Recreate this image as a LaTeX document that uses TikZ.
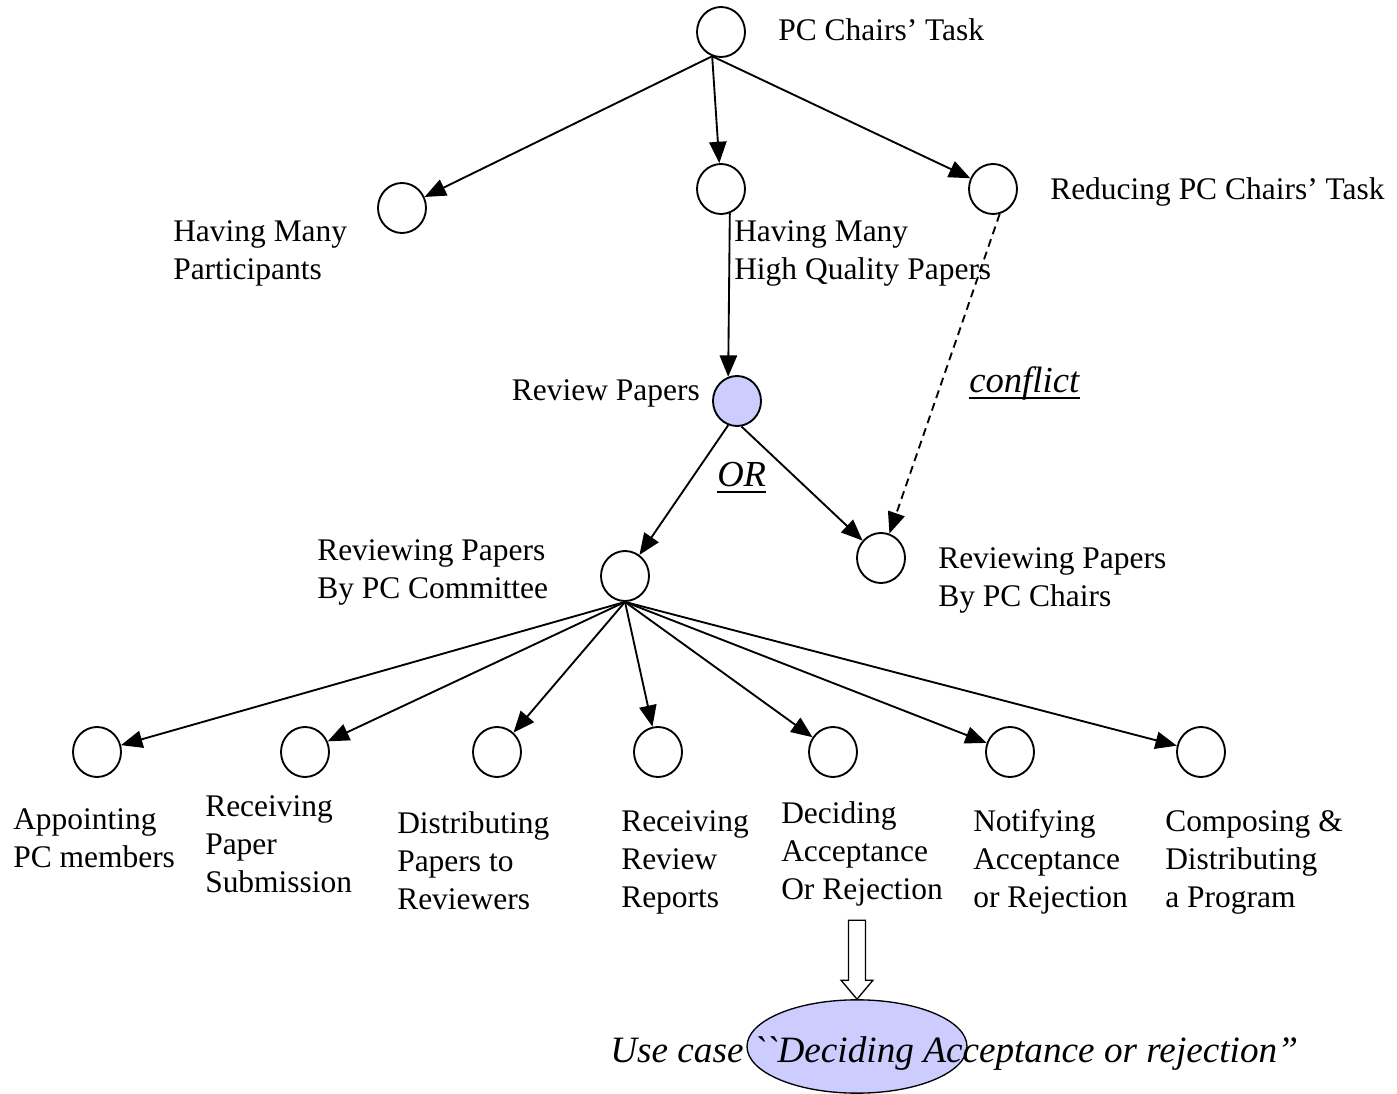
\documentclass[tikz,border=0pt]{standalone}
\usepackage{fontspec}
\setmainfont{Liberation Serif}
\usetikzlibrary{arrows.meta,shapes.geometric}
\definecolor{goalfill}{HTML}{CCCCFF}

\begin{document}
\begin{tikzpicture}[x=0.75pt,y=-0.75pt,
  goal/.style={draw, ellipse, line width=1.4pt, minimum width=36pt,
    minimum height=37.5pt, inner sep=0pt},
  lbl/.style={inner sep=0pt, align=left, anchor=base west,
    font=\fontsize{23.6}{28.5}\selectfont},
  tag/.style={lbl, font=\fontsize{27.5}{33}\selectfont\itshape},
  link/.style={line width=1.4pt, -{Triangle[length=16pt,width=13pt]}},
  blockarrow/.style={line width=1pt, fill=white, line join=miter}]
\useasboundingbox (0,0) rectangle (1397,1094);

% goals
\node[goal] (top) at (721,32) {};
\node[goal] (hmp) at (402,208) {};
\node[goal] (hq)  at (721,189) {};
\node[goal] (red) at (993,189) {};
\node[goal, fill=goalfill] (rp) at (737,401) {};
\node[goal] (com) at (625,576) {};
\node[goal] (chr) at (881,558) {};
\node[goal] (b1) at (97,752) {};
\node[goal] (b2) at (305,752) {};
\node[goal] (b3) at (497,752) {};
\node[goal] (b4) at (658,752) {};
\node[goal] (b5) at (833,752) {};
\node[goal] (b6) at (1010,752) {};
\node[goal] (b7) at (1201,752) {};

% labels (anchored at the baseline of their last line)
\node[lbl] (ltop) at (778,41) {PC Chairs’ Task};
\node[lbl] (lhmp) at (173,280) {Having Many\\Participants};
\node[lbl] (lhq)  at (734,280) {Having Many\\High Quality Papers};
\node[lbl] (lred) at (1050,200) {Reducing PC Chairs’ Task};
\node[lbl, anchor=base east] (lrp) at (700,401) {Review Papers};
\node[lbl] (lcom) at (317,599) {Reviewing Papers\\By PC Committee};
\node[lbl] (lchr) at (938,607) {Reviewing Papers\\By PC Chairs};
\node[lbl] (lb1) at (13,867) {Appointing\\PC members};
\node[lbl] (lb2) at (205,892) {Receiving\\Paper\\Submission};
\node[lbl] (lb3) at (397,909) {Distributing\\Papers to\\Reviewers};
\node[lbl] (lb4) at (621,907) {Receiving\\Review\\Reports};
\node[lbl] (lb5) at (781,899) {Deciding\\Acceptance\\Or Rejection};
\node[lbl] (lb6) at (973,907) {Notifying\\Acceptance\\or Rejection};
\node[lbl] (lb7) at (1165,907) {Composing \&\\Distributing\\a Program};

% underlined relation tags
\node[tag] (lconf) at (969,393) {conflict};
\node[tag] (lor) at (717,487) {OR};
\foreach \t in {lconf,lor}
  \draw[line width=1.5pt] ([yshift=-4pt]\t.base west) -- ([yshift=-4pt]\t.base east);

% use case
\node[draw, ellipse, line width=1pt, fill=goalfill, minimum width=165pt,
  minimum height=70pt, inner sep=0pt] (uc) at (857,1046.5) {};
\node[lbl, font=\fontsize{27.9}{33}\selectfont\itshape] (luc) at (610,1062)
  {Use case \textasciigrave\textasciigrave Deciding Acceptance or rejection”};

% decomposition links
\draw[link] (top.-110) -- (hmp);
\draw[link] (top.-110) -- (hq);
\draw[link] (top.-110) -- (red);
\draw[link] (hq.-70) -- (rp.110);
\draw[link] (rp.-110) -- (com);
\draw[link] (rp.-80) -- (chr);
\draw[link, dash pattern=on 6pt off 4pt] (red.-75) -- (chr);
\foreach \n in {b1,b2,b3,b4,b5,b6,b7}
  \draw[link] (com.south) -- (\n);

% refinement into the use case
\draw[blockarrow] (uc.north) -- ++(-16,-19) -- ++(7.5,0) -- ++(0,-60)
  -- ++(17,0) -- ++(0,60) -- ++(7.5,0) -- cycle;
\end{tikzpicture}
\end{document}
